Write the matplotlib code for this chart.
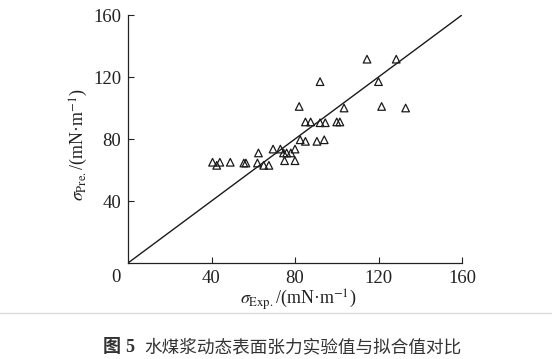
import matplotlib
matplotlib.use("Agg")
import matplotlib.pyplot as plt
from matplotlib.lines import Line2D

plt.rcParams['mathtext.fontset'] = 'stix'
plt.rcParams['font.family'] = ['Liberation Serif', 'DejaVu Serif']

exp_vals = [40.5, 42.5, 44, 49, 55.5, 56.5, 62, 65, 67.5, 62.5, 69.5, 73, 74.5, 76, 78, 80,
            75, 80, 82.5, 85, 90.5, 94, 85, 87.5, 92, 94.5, 100, 101.5, 82, 103.5, 121.5, 133,
            92, 120, 114.5, 128.5]
pre_vals = [65, 63, 65, 65, 64.5, 64.5, 64.5, 63, 63, 71, 73.5, 73.5, 71, 71, 71, 73.5,
            66, 66, 79.5, 78.5, 78.5, 79.5, 91, 91, 90.5, 90.5, 91, 91, 101, 100, 101, 100,
            117, 117, 131.5, 131.5]
ticks = [40, 80, 120, 160]
line_pts = [0, 160]

fig = plt.figure(figsize=(5.52, 3.59), dpi=100)
ax = fig.add_axes([128/552, 1-263/359, (462-128)/552, (263-15)/359])
ax.plot(line_pts, line_pts, color='#1a1a1a', lw=1.0)
ax.scatter(exp_vals, pre_vals, marker='^', s=30, facecolors='none', edgecolors='#1a1a1a',
           linewidths=0.9, zorder=3)
ax.set_xlim(0, 160)
ax.set_ylim(0, 160)
ax.set_xticks(ticks)
ax.set_yticks(ticks)
ax.tick_params(direction='in', length=4, width=0.8, labelsize=13.5, colors='#222222', pad=5)
for s in ['top', 'right']:
    ax.spines[s].set_visible(False)
for s in ['left', 'bottom']:
    ax.spines[s].set_linewidth(0.9)
    ax.spines[s].set_color('#222222')

fig.text(116/552, 1-277/359, '0', fontsize=13.5, ha='center', va='center', color='#222222')
fig.text(298/552, 1-300/359, r'$\sigma_{\mathrm{Exp.}}$/(mN·m$^{-1}$)', fontsize=13,
         ha='center', va='center', color='#222222')
fig.text(79/552, 1-145/359, r'$\sigma_{\mathrm{Pre.}}$/(mN·m$^{-1}$)', fontsize=13,
         ha='center', va='center', rotation=90, color='#222222')

# separator line
fig.add_artist(Line2D([0, 1], [1-313/359, 1-313/359], color='#d5dde2', lw=1.0,
                      transform=fig.transFigure))

cap_y = 1-347/359
fig.text(103/552, cap_y, '图', fontsize=13, family=['Noto Sans CJK SC'], fontweight='heavy',
         ha='left', va='center', color='#333333')
fig.text(125/552, cap_y, '5', fontsize=13, fontweight='bold', ha='left', va='center',
         color='#333333')
fig.text(144/552, cap_y, '水煤浆动态表面张力实验值与拟合值对比', fontsize=12.7,
         family=['Noto Sans CJK SC'], ha='left', va='center', color='#333333')

fig.savefig('out.png', dpi=100)
